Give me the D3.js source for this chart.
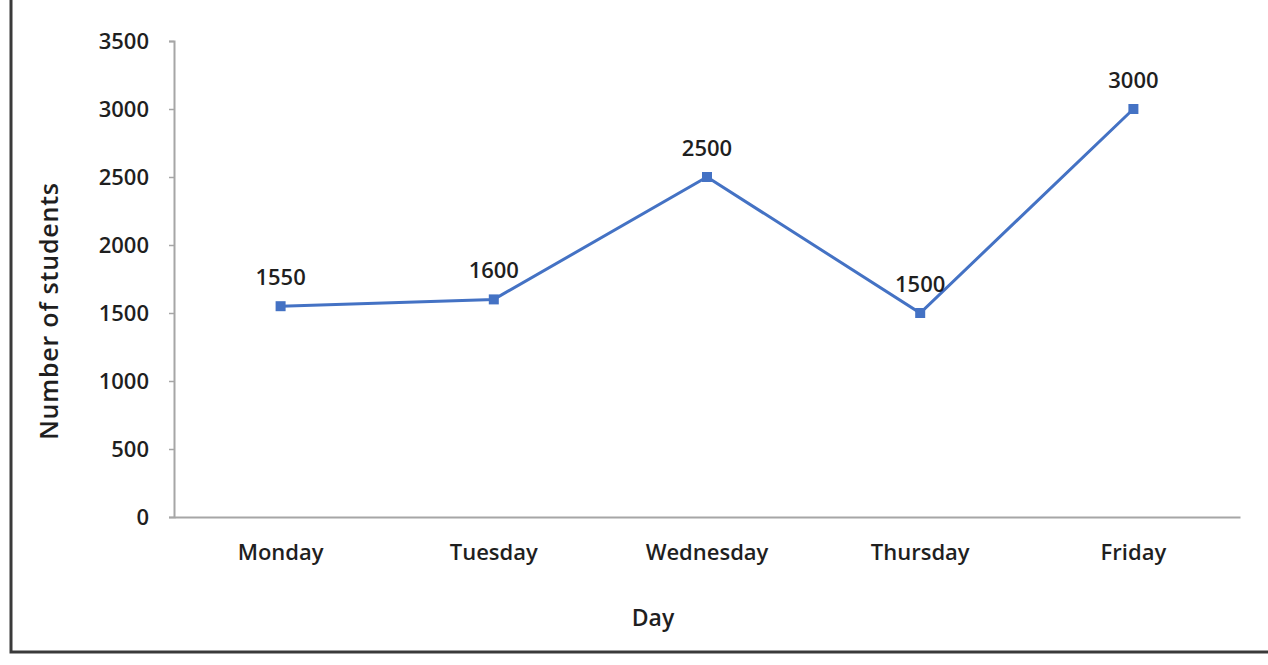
<!DOCTYPE html>
<html lang="en">
<head>
  <meta charset="UTF-8" />
  <title>Number of students by day</title>
  <script src="https://d3js.org/d3.v7.min.js"></script>
  <style>
    body { margin: 0; background: #fff; }
    text { font-family: "Open Sans", sans-serif; font-weight: 600; fill: #1f1f1f; }
  </style>
</head>
<body>
  <div id="chart"></div>

  <script>
    const days = ["Monday", "Tuesday", "Wednesday", "Thursday", "Friday"];
    const students = [1550, 1600, 2500, 1500, 3000];
    const yTicks = [0, 500, 1000, 1500, 2000, 2500, 3000, 3500];

    const W = 1268, H = 665;
    const margin = {top: 41, right: 28, bottom: 148, left: 174},
          width = W - margin.left - margin.right,
          height = H - margin.top - margin.bottom;

    const root = d3.select("#chart")
      .append("svg")
      .attr("width", W)
      .attr("height", H);

    // outer frame: only left and bottom edges show
    root.append("path")
      .attr("d", `M11,0 V652 H${W}`)
      .attr("fill", "none")
      .attr("stroke", "#3a3a3a")
      .attr("stroke-width", 3);

    const svg = root.append("g")
      .attr("transform", `translate(${margin.left},${margin.top})`);

    const x = d3.scaleBand()
      .domain(days)
      .range([0, width]);

    const y = d3.scaleLinear()
      .domain([0, 3500])
      .range([height, 0]);

    // y axis
    const yAxis = svg.append("g")
      .call(d3.axisLeft(y).tickValues(yTicks).tickFormat(d3.format("d")).tickSize(5).tickPadding(20));
    yAxis.select(".domain").attr("stroke", "#a6a6a6").attr("stroke-width", 2);
    yAxis.selectAll(".tick line").attr("stroke", "#a6a6a6").attr("stroke-width", 1.5);
    yAxis.selectAll(".tick text").style("font-size", "22px").attr("fill", "#1f1f1f");

    // x axis
    const xAxis = svg.append("g")
      .attr("transform", `translate(0,${height})`)
      .call(d3.axisBottom(x).tickSize(0).tickPadding(27));
    xAxis.select(".domain").attr("stroke", "#a6a6a6").attr("stroke-width", 2);
    xAxis.selectAll(".tick text").style("font-size", "22px").attr("fill", "#1f1f1f");

    const cx = d => x(d) + x.bandwidth() / 2;

    // line
    svg.append("path")
      .datum(days)
      .attr("fill", "none")
      .attr("stroke", "#4472c4")
      .attr("stroke-width", 3)
      .attr("d", d3.line()
        .x(d => cx(d))
        .y((d, i) => y(students[i]))
      );

    // markers
    svg.selectAll("rect.mark")
      .data(days)
      .enter()
      .append("rect")
      .attr("class", "mark")
      .attr("x", d => cx(d) - 5)
      .attr("y", (d, i) => y(students[i]) - 5)
      .attr("width", 10)
      .attr("height", 10)
      .attr("fill", "#4472c4");

    // value labels
    svg.selectAll("text.val")
      .data(days)
      .enter()
      .append("text")
      .attr("class", "val")
      .attr("x", d => cx(d))
      .attr("y", (d, i) => y(students[i]) - 21)
      .attr("text-anchor", "middle")
      .style("font-size", "22px")
      .text((d, i) => students[i]);

    // axis titles
    svg.append("text")
      .attr("x", 479)
      .attr("y", height + 109)
      .attr("text-anchor", "middle")
      .style("font-size", "23px")
      .text("Day");

    svg.append("text")
      .attr("transform", "rotate(-90)")
      .attr("x", -(311 - margin.top))
      .attr("y", -116)
      .attr("text-anchor", "middle")
      .style("font-size", "25px")
      .style("letter-spacing", "0.8px")
      .text("Number of students");
  </script>
</body>
</html>
